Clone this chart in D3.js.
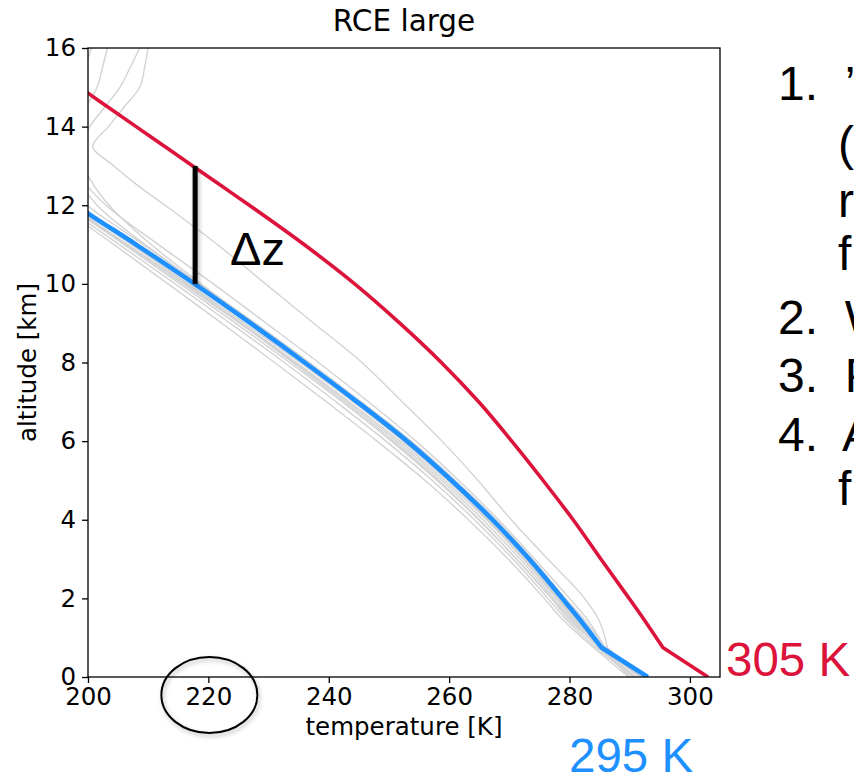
<!DOCTYPE html>
<html>
<head>
<meta charset="utf-8">
<script src="https://cdn.jsdelivr.net/npm/d3@7/dist/d3.min.js"></script>
<style>
  html, body { margin: 0; padding: 0; background: #fff; }
  svg { display: block; }
</style>
</head>
<body>
<svg id="chart" width="854" height="774"></svg>
<script>
// Altitude levels [km] shared by every temperature profile
const levels = [0, 0.75, 1.5, 2, 3, 4, 5, 6, 7, 8, 9, 10, 11, 12, 12.5, 13, 13.5, 14, 14.5, 15, 15.5, 16];

// Highlighted profiles [K]
const profile295 = [293.0, 285.3, 281.5, 278.8, 273.3, 267.2, 260.4, 253.0, 244.7, 236.0, 227.0, 217.7, 208.0, 198.0, 193.5, 190.0, 188.0, 187.5, 188.5, 190.0, 191.5, 193.0];
const profile305 = [303.0, 295.5, 292.2, 289.9, 285.2, 280.6, 275.6, 270.4, 264.9, 258.7, 251.8, 244.3, 235.9, 226.8, 222.1, 217.4, 212.7, 208.0, 203.3, 198.6, 193.8, 189.0];

// Ensemble members [K]
const members = [
  [291.5, 286.3, 284.7, 282.5, 276.4, 270.3, 264.8, 258.8, 252.2, 245.5, 237.5, 229.5, 221.5, 212.8, 208.3, 204.3, 200.8, 203.4, 206.0, 208.6, 209.4, 210.0],
  [292.5, 285.8, 282.8, 280.0, 274.2, 268.2, 261.6, 254.5, 246.6, 238.3, 229.6, 220.8, 211.7, 203.0, 199.8, 197.6, 196.5, 196.0, 196.4, 197.0, 197.8, 198.5],
  [292.0, 285.0, 280.8, 278.0, 272.4, 266.2, 259.3, 251.8, 243.4, 234.6, 225.5, 216.2, 206.6, 197.2, 193.0, 190.0, 188.5, 188.0, 188.6, 189.5, 190.5, 191.5],
  [291.5, 285.6, 280.2, 277.4, 271.8, 265.6, 258.8, 251.3, 243.0, 234.3, 225.2, 215.8, 206.3, 196.9, 192.6, 189.8, 188.4, 188.2, 189.0, 190.2, 191.4, 192.6],
  [290.5, 284.4, 279.2, 276.4, 270.6, 264.2, 257.2, 249.5, 241.2, 232.6, 223.6, 214.5, 205.2, 196.0, 192.0, 189.3, 188.0, 187.8, 188.5, 189.6, 190.8, 192.0],
  [289.8, 284.0, 278.6, 275.8, 269.8, 263.2, 256.0, 248.0, 239.6, 231.0, 222.2, 213.3, 204.3, 195.3, 191.4, 188.8, 187.6, 187.4, 188.0, 189.0, 190.2, 191.4],
  [291.0, 285.2, 281.0, 278.2, 272.7, 266.6, 259.8, 252.3, 244.0, 235.2, 226.0, 216.7, 207.2, 198.0, 194.0, 191.0, 189.4, 189.0, 189.6, 190.6, 191.8, 193.0],
  [292.8, 286.0, 282.2, 279.3, 273.8, 267.8, 261.0, 253.7, 245.4, 236.8, 227.8, 218.5, 209.2, 199.8, 196.0, 193.5, 192.0, 191.6, 192.0, 193.0, 194.2, 195.4],
  [290.0, 285.2, 279.6, 277.0, 271.2, 264.9, 258.0, 250.4, 242.2, 233.5, 224.5, 215.3, 206.0, 196.7, 192.6, 190.0, 188.8, 188.5, 189.2, 190.2, 191.4, 192.6],
  [291.8, 285.4, 281.2, 278.5, 273.0, 267.0, 260.2, 252.8, 244.6, 236.2, 227.5, 218.8, 210.5, 203.5, 201.0, 199.3, 198.8, 200.3, 202.8, 205.3, 207.0, 208.6],
  [292.2, 285.0, 280.5, 277.8, 272.3, 266.4, 259.9, 252.6, 244.5, 236.0, 227.2, 218.4, 209.5, 201.5, 199.0, 197.5, 197.0, 198.5, 199.7, 201.5, 202.4, 203.2],
  [290.8, 284.8, 280.0, 277.0, 271.2, 265.0, 258.3, 250.8, 242.6, 234.0, 225.3, 216.5, 207.5, 199.0, 196.5, 195.0, 195.5, 196.8, 197.5, 198.4, 199.4, 200.6]
];

// Axis ticks
const xTicks = [200, 220, 240, 260, 280, 300];
const yTicks = [0, 2, 4, 6, 8, 10, 12, 14, 16];

// Surface temperature labels [K]
const sstLabels = [305, 295];

// Depth marker between the two profiles at one temperature
const dzTemp = 217.8;
const dzBottom = 10.0;
const dzTop = 13.0;

// Bullet text beside the plot
const bulletLines = ["1.  \u2019", "(", "r", "f", "2.  W", "3.  P", "4.  A", "f"];

const svg = d3.select("#chart");
const W = 854, H = 774;
const plot = { left: 88, right: 720, top: 48, bottom: 677 };

svg.append("rect").attr("width", W).attr("height", H).attr("fill", "#fff");

const x = d3.scaleLinear().domain([200, 305]).range([plot.left, plot.right]);
const y = d3.scaleLinear().domain([0, 16]).range([plot.bottom, plot.top]);

const defs = svg.append("defs");
defs.append("clipPath").attr("id", "plotclip")
  .append("rect")
  .attr("x", plot.left).attr("y", plot.top)
  .attr("width", plot.right - plot.left).attr("height", plot.bottom - plot.top);

const shadow = defs.append("filter").attr("id", "soft")
  .attr("filterUnits", "userSpaceOnUse")
  .attr("x", 0).attr("y", 0).attr("width", W).attr("height", H);
shadow.append("feDropShadow")
  .attr("dx", 1.5).attr("dy", 2.5).attr("stdDeviation", 2)
  .attr("flood-color", "#000").attr("flood-opacity", 0.28);

// Surface layer is drawn straight; above the boundary-layer top the profile
// follows a monotone-in-altitude spline
const surfaceLine = d3.line().x(d => x(d[0])).y(d => y(d[1]));
const aloftLine = d3.line().curve(d3.curveMonotoneY).x(d => x(d[0])).y(d => y(d[1]));

const pair = temps => temps.map((t, i) => [t, levels[i]]);
const profilePath = temps => {
  const pts = pair(temps);
  return surfaceLine(pts.slice(0, 2)) + aloftLine(pts.slice(1)).replace(/^M/, "L");
};

const lines = svg.append("g").attr("clip-path", "url(#plotclip)");

lines.selectAll("path.member")
  .data(members)
  .join("path")
  .attr("class", "member")
  .attr("d", profilePath)
  .attr("fill", "none")
  .attr("stroke", "#d3d3d3")
  .attr("stroke-width", 1.4);

lines.append("path")
  .attr("d", profilePath(profile295))
  .attr("fill", "none")
  .attr("stroke", "#1e90ff")
  .attr("stroke-width", 4.6)
  .attr("stroke-linejoin", "round");

lines.append("path")
  .attr("d", profilePath(profile305))
  .attr("fill", "none")
  .attr("stroke", "#dc143c")
  .attr("stroke-width", 3.6)
  .attr("stroke-linejoin", "round");

// Axes
const tickFont = "'DejaVu Sans', sans-serif";

const xAxis = svg.append("g")
  .attr("transform", `translate(0,${plot.bottom})`)
  .call(d3.axisBottom(x).tickValues(xTicks).tickSize(6).tickPadding(5).tickSizeOuter(0));
xAxis.select(".domain").remove();

const yAxis = svg.append("g")
  .attr("transform", `translate(${plot.left},0)`)
  .call(d3.axisLeft(y).tickValues(yTicks).tickSize(6).tickPadding(6).tickSizeOuter(0));
yAxis.select(".domain").remove();

[xAxis, yAxis].forEach(g => {
  g.selectAll("line").attr("stroke", "#000").attr("stroke-width", 1.3);
  g.selectAll("text")
    .attr("fill", "#000")
    .style("font-family", tickFont)
    .style("font-size", "24.5px");
});

// Frame
svg.append("rect")
  .attr("x", plot.left).attr("y", plot.top)
  .attr("width", plot.right - plot.left).attr("height", plot.bottom - plot.top)
  .attr("fill", "none").attr("stroke", "#000").attr("stroke-width", 1.3);

// Titles
svg.append("text")
  .attr("x", (plot.left + plot.right) / 2).attr("y", 31)
  .attr("text-anchor", "middle")
  .style("font-family", tickFont).style("font-size", "29.5px")
  .text("RCE large");

svg.append("text")
  .attr("x", (plot.left + plot.right) / 2).attr("y", 735)
  .attr("text-anchor", "middle")
  .style("font-family", tickFont).style("font-size", "24.5px")
  .text("temperature [K]");

svg.append("text")
  .attr("transform", `translate(36,${(plot.top + plot.bottom) / 2}) rotate(-90)`)
  .attr("text-anchor", "middle")
  .style("font-family", tickFont).style("font-size", "24.5px")
  .text("altitude [km]");

// Depth marker and its label
svg.append("rect")
  .attr("x", x(dzTemp) - 2.5).attr("width", 5)
  .attr("y", y(dzTop)).attr("height", y(dzBottom) - y(dzTop))
  .attr("fill", "#000")
  .attr("filter", "url(#soft)");

const slideFont = "'Liberation Sans', Arial, sans-serif";

svg.append("text")
  .attr("x", 230).attr("y", 265)
  .style("font-family", slideFont).style("font-size", "47px")
  .text("\u0394z");

// Circle round the 220 tick label
svg.append("ellipse")
  .attr("cx", x(220) + 1).attr("cy", 695)
  .attr("rx", 48).attr("ry", 38)
  .attr("fill", "none").attr("stroke", "#000").attr("stroke-width", 2)
  .attr("filter", "url(#soft)");

// Surface temperature labels
svg.append("text")
  .attr("x", 726).attr("y", 676)
  .attr("fill", "#dc143c")
  .style("font-family", slideFont).style("font-size", "47.5px")
  .text(`${sstLabels[0]} K`);

svg.append("text")
  .attr("x", 569).attr("y", 772)
  .attr("fill", "#1e90ff")
  .style("font-family", slideFont).style("font-size", "47.5px")
  .text(`${sstLabels[1]} K`);

// Bullet list, running off the right edge
const bulletY = [100, 160, 217, 270, 334, 392, 451, 505];
const bulletX = [778, 838, 838, 838, 778, 778, 778, 838];
svg.append("g")
  .selectAll("text")
  .data(bulletLines)
  .join("text")
  .attr("x", (d, i) => bulletX[i])
  .attr("y", (d, i) => bulletY[i])
  .attr("fill", "#000")
  .style("font-family", slideFont).style("font-size", "48px")
  .style("white-space", "pre")
  .attr("xml:space", "preserve")
  .text(d => d);
</script>
</body>
</html>
